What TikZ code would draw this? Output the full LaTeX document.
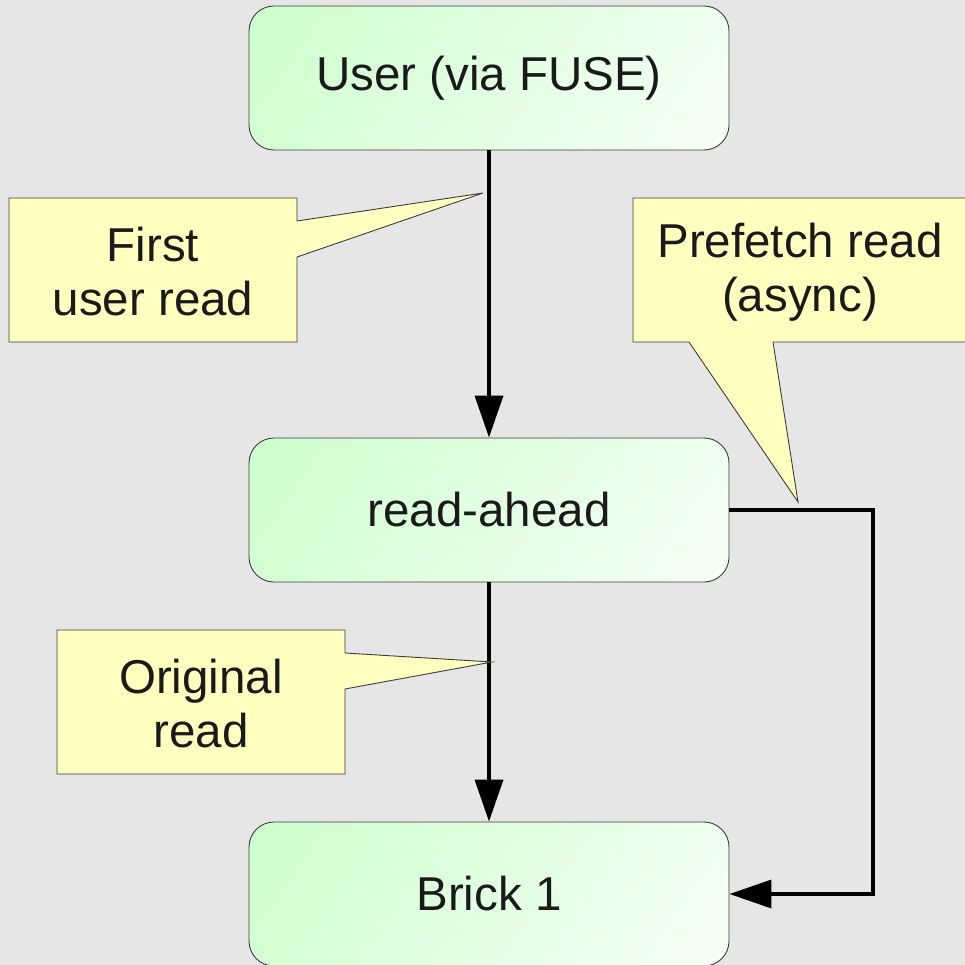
\documentclass[tikz,border=0pt]{standalone}
\usepackage{fontspec}
\setmainfont{Liberation Sans}
\usetikzlibrary{arrows.meta}
\definecolor{bggray}{RGB}{230,230,230}
\definecolor{boxgreen}{RGB}{196,255,196}
\definecolor{noteyellow}{RGB}{255,255,192}
\definecolor{edgegray}{RGB}{60,60,60}
\definecolor{txt}{RGB}{26,26,26}
\pgfdeclarehorizontalshading{stagefade}{100bp}{color(0bp)=(boxgreen); color(100bp)=(white)}

\begin{document}
\begin{tikzpicture}[x=1pt,y=-1pt,>={Triangle[length=42pt,width=28pt]},
  stage/.style={draw=edgegray,line width=0.9pt,rounded corners=25pt,
    shading=stagefade,shading angle=-35,
    minimum width=480pt,minimum height=144pt,text=txt,
    font=\fontsize{47.5}{54}\selectfont},
  note/.style={fill=noteyellow,draw=edgegray,line width=0.9pt,line join=miter},
  notetext/.style={align=center,text=txt,font=\fontsize{47.5}{54}\selectfont},
  flow/.style={->,line width=3.6pt}]
\useasboundingbox (0,0) rectangle (965,965);
\fill[bggray] (0,0) rectangle (965,965);
% the three stages
\node[stage] (user)  at (489,78)  {User (via FUSE)};
\node[stage] (ahead) at (489,510) {read-ahead};
\node[stage] (brick) at (489,894) {Brick 1};
\coordinate (bend) at (873,510);
\draw[flow] (user.south) -- (ahead.north);
\draw[flow] (ahead.south) -- (brick.north);
\draw[flow] (ahead.east) -- (bend) |- (brick.east);
% callouts
\coordinate (firsttip) at (483,193);
\draw[note] (9,198) -- (297,198) -- (297,221) -- (firsttip) -- (297,257)
  -- (297,342) -- (9,342) -- cycle;
\node[notetext] (first) at (153,272) {First\\user read};
\coordinate (prefetchtip) at (798,502);
\draw[note] (633,198) -- (968,198) -- (968,342) -- (773,342) -- (prefetchtip)
  -- (689,342) -- (633,342) -- cycle;
\node[notetext] (prefetch) at (800,272) {Prefetch read\\(async)};
\coordinate (origtip) at (492,662);
\draw[note] (57,630) -- (345,630) -- (345,653) -- (origtip) -- (345,689)
  -- (345,774) -- (57,774) -- cycle;
\node[notetext] (orig) at (201,704) {Original\\read};
\end{tikzpicture}
\end{document}
